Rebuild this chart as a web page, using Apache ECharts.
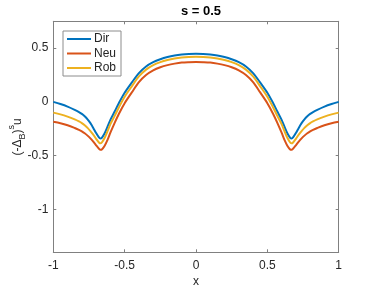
<!DOCTYPE html>
<html>
<head>
<meta charset="utf-8">
<script src="https://cdn.jsdelivr.net/npm/echarts@6/dist/echarts.min.js"></script>
<style>
html,body{margin:0;padding:0;background:#fff;}
#chart{width:374px;height:288px;}
</style>
</head>
<body>
<div id="chart"></div>
<script>
const titleText = 's = 0.5';
const seriesNames = ['Dir', 'Neu', 'Rob'];
const xTicks = [-1, -0.5, 0, 0.5, 1];
const yTicks = [-1, -0.5, 0, 0.5];

const xs = [-1, -0.95, -0.9, -0.85, -0.82, -0.8, -0.78, -0.76, -0.74, -0.72, -0.70, -0.68, -0.67, -0.66, -0.64, -0.62, -0.60, -0.57, -0.54, -0.50, -0.45, -0.40, -0.35, -0.30, -0.25, -0.20, -0.15, -0.10, -0.05,
  0,
  0.05, 0.10, 0.15, 0.20, 0.25, 0.30, 0.35, 0.40, 0.45, 0.50, 0.54, 0.57, 0.60, 0.62, 0.64, 0.66, 0.67, 0.68, 0.70, 0.72, 0.74, 0.76, 0.78, 0.8, 0.82, 0.85, 0.9, 0.95, 1];

const dirVals = [0.000, -0.020, -0.044, -0.074, -0.095, -0.112, -0.134, -0.162, -0.198, -0.242, -0.290, -0.331, -0.341, -0.334, -0.292, -0.231, -0.167, -0.090, -0.010, 0.085, 0.180, 0.268, 0.330, 0.370, 0.397, 0.417, 0.431, 0.440, 0.445,
  0.447,
  0.445, 0.440, 0.431, 0.417, 0.397, 0.370, 0.330, 0.268, 0.180, 0.085, -0.010, -0.090, -0.167, -0.231, -0.292, -0.334, -0.341, -0.331, -0.290, -0.242, -0.198, -0.162, -0.134, -0.112, -0.095, -0.074, -0.044, -0.020, 0.000];

const neuVals = [-0.185, -0.199, -0.218, -0.243, -0.260, -0.274, -0.292, -0.314, -0.340, -0.370, -0.404, -0.436, -0.446, -0.443, -0.408, -0.354, -0.287, -0.195, -0.110, -0.012, 0.088, 0.184, 0.250, 0.293, 0.322, 0.342, 0.356, 0.366, 0.370,
  0.372,
  0.370, 0.366, 0.356, 0.342, 0.322, 0.293, 0.250, 0.184, 0.088, -0.012, -0.110, -0.195, -0.287, -0.354, -0.408, -0.443, -0.446, -0.436, -0.404, -0.370, -0.340, -0.314, -0.292, -0.274, -0.260, -0.243, -0.218, -0.199, -0.185];

const robVals = [-0.100, -0.116, -0.137, -0.163, -0.182, -0.197, -0.217, -0.242, -0.272, -0.305, -0.344, -0.378, -0.386, -0.378, -0.334, -0.272, -0.207, -0.130, -0.050, 0.048, 0.145, 0.237, 0.300, 0.342, 0.370, 0.390, 0.404, 0.413, 0.418,
  0.420,
  0.418, 0.413, 0.404, 0.390, 0.370, 0.342, 0.300, 0.237, 0.145, 0.048, -0.050, -0.130, -0.207, -0.272, -0.334, -0.378, -0.386, -0.378, -0.344, -0.305, -0.272, -0.242, -0.217, -0.197, -0.182, -0.163, -0.137, -0.116, -0.100];

const colors = ['#0072BD', '#D95319', '#EDB120'];
const valuesList = [dirVals, neuVals, robVals];

const FONT = 'Liberation Sans, Arial, Helvetica, sans-serif';
const axisGray = '#808080';
const textDark = '#262626';

const chart = echarts.init(document.getElementById('chart'), null, {renderer: 'canvas'});

const series = seriesNames.map((name, i) => ({
  name: name,
  type: 'line',
  xAxisIndex: 0,
  yAxisIndex: 0,
  showSymbol: false,
  symbol: 'none',
  smooth: 0.3,
  lineStyle: {color: colors[i], width: 2},
  itemStyle: {color: colors[i]},
  data: xs.map((x, k) => [x, valuesList[i][k]])
}));

const option = {
  animation: false,
  backgroundColor: '#ffffff',
  title: {
    text: titleText,
    left: 196,
    textAlign: 'center',
    top: 0,
    textStyle: {fontFamily: FONT, fontSize: 13, fontWeight: 'bold', color: '#000'}
  },
  legend: {
    data: seriesNames,
    orient: 'vertical',
    left: 63,
    top: 31,
    padding: [2, 5, 2, 3],
    itemWidth: 24,
    itemHeight: 12,
    itemGap: 2.5,
    borderColor: '#8c8c8c',
    borderWidth: 1,
    backgroundColor: '#fff',
    borderRadius: 0,
    itemStyle: {opacity: 0},
    textStyle: {fontFamily: FONT, fontSize: 12, color: textDark, padding: [0, 0, 0, -2]}
  },
  grid: {left: 53.3, right: 35.3, top: 21.3, bottom: 35.7, outerBoundsMode: 'none', containLabel: false},
  xAxis: [{
    type: 'value',
    min: -1, max: 1, interval: 0.5,
    name: 'x',
    nameLocation: 'middle',
    nameGap: 23,
    nameMoveOverlap: false,
    nameTextStyle: {fontFamily: FONT, fontSize: 12, color: textDark},
    axisLine: {show: true, onZero: false, lineStyle: {color: axisGray, width: 1}},
    axisTick: {show: true, inside: true, length: 3, lineStyle: {color: axisGray}},
    axisLabel: {fontFamily: FONT, fontSize: 12, color: textDark, margin: 7},
    splitLine: {show: false}
  }, {
    type: 'value',
    position: 'top',
    min: -1, max: 1, interval: 0.5,
    axisLine: {show: true, onZero: false, lineStyle: {color: axisGray, width: 1}},
    axisTick: {show: true, inside: true, length: 3, lineStyle: {color: axisGray}},
    axisLabel: {show: false},
    splitLine: {show: false}
  }],
  yAxis: [{
    type: 'value',
    min: -1.4, max: 0.75,
    name: '(-Δ{sub|B}){sup|s}u',
    nameLocation: 'middle',
    nameRotate: 90,
    nameGap: 26,
    nameMoveOverlap: false,
    nameTextStyle: {
      fontFamily: FONT, fontSize: 12, color: textDark, lineHeight: 20,
      rich: {
        sub: {fontFamily: FONT, fontSize: 9, color: textDark, verticalAlign: 'bottom', lineHeight: 20},
        sup: {fontFamily: FONT, fontSize: 9, color: textDark, verticalAlign: 'top', lineHeight: 20}
      }
    },
    axisLine: {show: true, onZero: false, lineStyle: {color: axisGray, width: 1}},
    axisTick: {show: true, inside: true, length: 3, customValues: yTicks, lineStyle: {color: axisGray}},
    axisLabel: {fontFamily: FONT, fontSize: 12, color: textDark, margin: 5, customValues: yTicks},
    splitLine: {show: false}
  }, {
    type: 'value',
    position: 'right',
    min: -1.4, max: 0.75,
    axisLine: {show: true, onZero: false, lineStyle: {color: axisGray, width: 1}},
    axisTick: {show: true, inside: true, length: 3, customValues: yTicks, lineStyle: {color: axisGray}},
    axisLabel: {show: false, customValues: yTicks},
    splitLine: {show: false}
  }],
  series: series
};

chart.setOption(option);
</script>
</body>
</html>
